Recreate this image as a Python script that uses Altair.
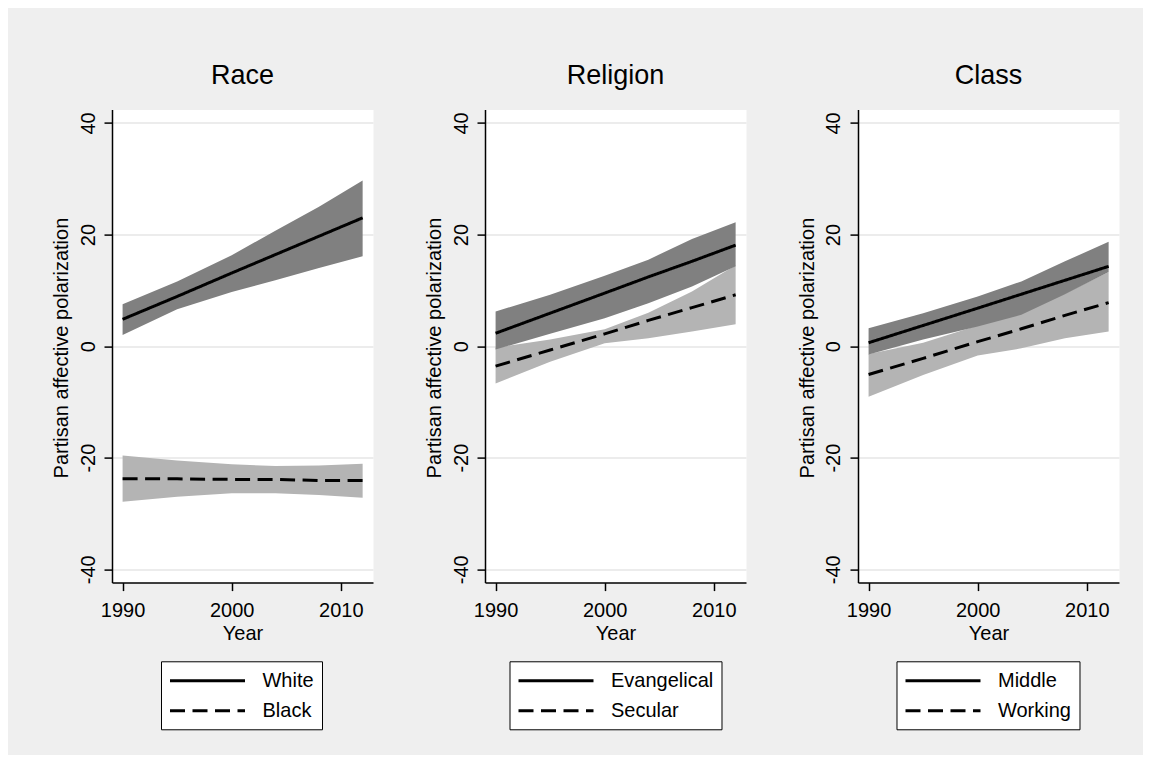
import altair as alt
import pandas as pd

FONT = "Liberation Sans, Arial, sans-serif"
DARK = "#808080"
LIGHT = "#B4B4B4"
BG = "#EFEFEF"

years = [1990, 1995, 2000, 2004, 2008, 2012]

# Race
white_fit = [4.8, 8.9, 13.1, 16.4, 19.7, 23.0]
white_lo = [2.0, 6.6, 9.7, 11.8, 14.0, 16.1]
white_hi = [7.5, 11.6, 16.3, 20.7, 25.0, 29.7]
black_fit = [-23.8, -23.8, -23.9, -23.9, -24.1, -24.1]
black_lo = [-27.9, -27.0, -26.4, -26.4, -26.7, -27.2]
black_hi = [-19.6, -20.5, -21.2, -21.5, -21.4, -21.1]

# Religion
evan_fit = [2.3, 5.9, 9.5, 12.4, 15.2, 18.1]
evan_lo = [-0.6, 2.2, 5.0, 7.7, 10.7, 14.3]
evan_hi = [6.2, 9.2, 12.6, 15.5, 19.2, 22.2]
sec_fit = [-3.6, -0.7, 2.2, 4.6, 6.9, 9.2]
sec_lo = [-6.7, -2.8, 0.5, 1.4, 2.6, 3.9]
sec_hi = [-0.3, 1.2, 3.0, 6.0, 9.8, 14.5]

# Class
mid_fit = [0.6, 3.7, 6.8, 9.3, 11.8, 14.3]
mid_lo = [-1.5, 1.2, 3.5, 5.6, 9.3, 13.3]
mid_hi = [3.2, 5.9, 8.9, 11.6, 15.2, 18.7]
work_fit = [-5.1, -2.2, 0.8, 3.1, 5.5, 7.8]
work_lo = [-9.1, -5.2, -1.7, -0.4, 1.4, 2.6]
work_hi = [-1.4, 0.6, 3.7, 6.2, 9.4, 13.3]

y_ticks = [-40, -20, 0, 20, 40]
x_ticks = [1990, 2000, 2010]
y_title = "Partisan affective polarization"
x_title = "Year"


def frame(name, fit, lo, hi):
    return pd.DataFrame({"group": name, "year": years, "fit": fit, "lo": lo, "hi": hi})


def panel(title, g1, d1, g2, d2, legend_x):
    df = pd.concat([frame(g1, *d1), frame(g2, *d2)], ignore_index=True)
    base = alt.Chart(df)
    x = alt.X(
        "year:Q",
        scale=alt.Scale(domain=[1989.03, 2012.95], nice=False, zero=False),
        axis=alt.Axis(
            values=x_ticks, title=x_title, grid=False, format="d",
            labelFlush=False, labelOverlap=False, labelPadding=9.5,
            titleY=56.6, titleBaseline="alphabetic",
        ),
    )

    def yenc(field):
        return alt.Y(
            field,
            scale=alt.Scale(domain=[-42.4, 42.4], nice=False, zero=False),
            axis=alt.Axis(
                values=y_ticks, title=y_title, grid=True,
                labelExpr="toString(datum.value)",
                labelAngle=270, labelAlign="center", labelBaseline="alphabetic",
                labelPadding=10, titleAngle=270, titleBaseline="alphabetic",
                titleAlign="center", titleX=-44.4, titleY=238,
            ),
        )

    light = base.transform_filter(alt.datum.group == g2).mark_area(
        color=LIGHT, opacity=1
    ).encode(x=x, y=yenc("lo:Q"), y2="hi:Q")
    dark = base.transform_filter(alt.datum.group == g1).mark_area(
        color=DARK, opacity=1
    ).encode(x=x, y=yenc("lo:Q"), y2="hi:Q")
    lines = base.mark_line(color="black", strokeWidth=3).encode(
        x=x,
        y=yenc("fit:Q"),
        strokeDash=alt.StrokeDash(
            "group:N",
            sort=[g1, g2],
            scale=alt.Scale(domain=[g1, g2], range=[[1, 0], [15, 7.5]]),
            legend=alt.Legend(
                title=None, orient="none", legendX=legend_x, legendY=551.7,
                direction="vertical", strokeColor="black", fillColor="white",
                padding=8, rowPadding=8, cornerRadius=0,
                symbolType="M-3.75,0H3.75", symbolSize=400, symbolStrokeWidth=3,
                symbolStrokeColor="black", symbolOffset=27, labelOffset=43.5,
                labelFontSize=20, labelFont=FONT, labelColor="black",
            ),
        ),
    )
    return alt.layer(light, dark, lines).properties(
        width=261,
        height=473,
        title=alt.TitleParams(
            title, fontSize=27, font=FONT, fontWeight="normal", color="black",
            offset=20, frame="group", anchor="middle",
        ),
    )


p1 = panel("Race", "White", (white_fit, white_lo, white_hi),
           "Black", (black_fit, black_lo, black_hi), 49)
p2 = panel("Religion", "Evangelical", (evan_fit, evan_lo, evan_hi),
           "Secular", (sec_fit, sec_lo, sec_hi), 24.5)
p3 = panel("Class", "Middle", (mid_fit, mid_lo, mid_hi),
           "Working", (work_fit, work_lo, work_hi), 38.5)

chart = (
    alt.hconcat(p1, p2, p3, spacing=112, bounds="flush")
    .resolve_scale(strokeDash="independent")
    .properties(
        background=BG,
        padding={"left": 43, "right": 23, "top": 52.6, "bottom": 24},
    )
    .configure_view(stroke="transparent", fill="white")
    .configure_axis(
        domainColor="black", domainWidth=1.5, tickColor="black", tickWidth=1.5,
        tickSize=8, labelFontSize=20, labelFont=FONT, labelColor="black",
        titleFontSize=20, titleFont=FONT, titleFontWeight="normal",
        titleColor="black", gridColor="#E6E6E6", gridWidth=1.5,
    )
)

chart.save("out.html", embed_options={"renderer": "svg", "actions": False})
